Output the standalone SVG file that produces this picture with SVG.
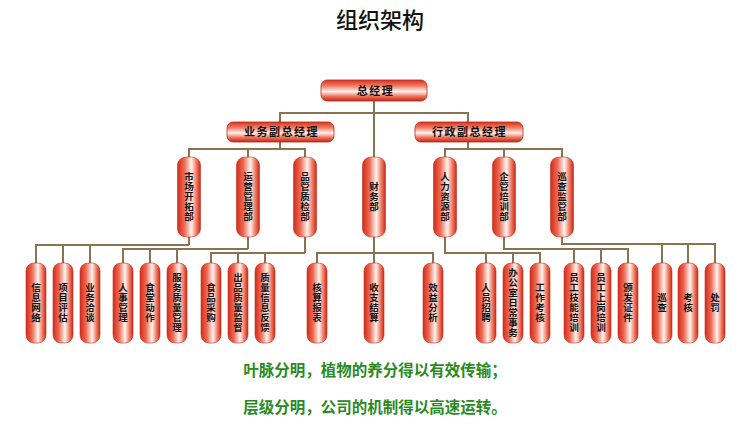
<svg xmlns="http://www.w3.org/2000/svg" width="750" height="442" viewBox="0 0 750 442">
<defs>
<linearGradient id="cap" x1="0" y1="0" x2="1" y2="0">
<stop offset="0" stop-color="#d42a1a"/>
<stop offset="0.3" stop-color="#ec6a52"/>
<stop offset="0.6" stop-color="#fff4f0"/>
<stop offset="0.82" stop-color="#ef7a62"/>
<stop offset="1" stop-color="#cc2616"/>
</linearGradient>
<linearGradient id="box" x1="0" y1="0" x2="0" y2="1">
<stop offset="0" stop-color="#d83220"/>
<stop offset="0.28" stop-color="#f07c64"/>
<stop offset="0.55" stop-color="#fff2ec"/>
<stop offset="0.78" stop-color="#ee7058"/>
<stop offset="1" stop-color="#c42616"/>
</linearGradient>
</defs>
<style>
.cap{fill:url(#cap);stroke:#c8301e;stroke-width:0.6}
.box{fill:url(#box);stroke:#b8281a;stroke-width:0.8}
.t{font-family:"Noto Sans CJK SC","Noto Sans CJK JP",sans-serif;font-size:9.5px;font-weight:bold;fill:#111;text-anchor:middle}
.bt{font-family:"Noto Sans CJK SC","Noto Sans CJK JP",sans-serif;font-size:11px;font-weight:bold;fill:#111;text-anchor:middle;letter-spacing:1.5px}
.title{font-family:"Noto Sans CJK SC","Noto Sans CJK JP",sans-serif;font-size:22px;font-weight:500;fill:#111;text-anchor:middle}
.note{font-family:"Noto Sans CJK SC","Noto Sans CJK JP",sans-serif;font-size:15.5px;font-weight:bold;fill:#2a8a1e;text-anchor:middle}
.ln{fill:none;stroke:#8a7350;stroke-width:2}
</style>
<rect width="750" height="442" fill="#ffffff"/>
<text class="title" x="380" y="28">组织架构</text>

<g id="connectors" class="ln">
<path d="M374,101 V157"/>
<path d="M280,122 V113 H468 V122"/>
<path d="M280,142 V149 M189,157 V149 H305 V157 M248,149 V157"/>
<path d="M468,142 V149 M445,157 V149 H562 V157 M504,149 V157"/>
<path d="M189,237 V245 M36,263 V245 H189 M63,245 V263 M90,245 V263"/>
<path d="M248,237 V249 M123,263 V249 H248 M150,249 V263 M177,249 V263"/>
<path d="M305,237 V253 M211,263 V253 H305 M238,253 V263 M265,253 V263"/>
<path d="M374,237 V263 M317,263 V253 H433 V263"/>
<path d="M445,237 V253 H540 V263 M486,253 V263 M513,253 V263"/>
<path d="M504,237 V249 H628 V263 M574,249 V263 M601,249 V263"/>
<path d="M562,237 V244 H715 V263 M662,244 V263 M688,244 V263"/>
</g>

<g id="n-zjl"><rect class="box" x="321" y="80" width="106" height="21" rx="6"/><text class="bt" x="375.5" y="94.8">总经理</text></g>
<g id="n-ywfz"><rect class="box" x="227" y="122" width="107" height="20" rx="6"/><text class="bt" x="281.5" y="136.3">业务副总经理</text></g>
<g id="n-xzfz"><rect class="box" x="415" y="122" width="108" height="20" rx="6"/><text class="bt" x="469.5" y="136.3">行政副总经理</text></g>

<g id="n-sckt"><rect class="cap" x="177.5" y="157" width="23" height="80" rx="9" ry="8"/><text class="t"><tspan x="189" y="180.4">市</tspan><tspan x="189" y="190.4">场</tspan><tspan x="189" y="200.4">开</tspan><tspan x="189" y="210.4">拓</tspan><tspan x="189" y="220.4">部</tspan></text></g>
<g id="n-yygl"><rect class="cap" x="236.5" y="157" width="23" height="80" rx="9" ry="8"/><text class="t"><tspan x="248" y="180.4">运</tspan><tspan x="248" y="190.4">营</tspan><tspan x="248" y="200.4">管</tspan><tspan x="248" y="210.4">理</tspan><tspan x="248" y="220.4">部</tspan></text></g>
<g id="n-pgzj"><rect class="cap" x="293.5" y="157" width="23" height="80" rx="9" ry="8"/><text class="t"><tspan x="305" y="180.4">品</tspan><tspan x="305" y="190.4">管</tspan><tspan x="305" y="200.4">质</tspan><tspan x="305" y="210.4">检</tspan><tspan x="305" y="220.4">部</tspan></text></g>
<g id="n-cwb"><rect class="cap" x="362.5" y="157" width="23" height="80" rx="9" ry="8"/><text class="t"><tspan x="374" y="190.4">财</tspan><tspan x="374" y="200.4">务</tspan><tspan x="374" y="210.4">部</tspan></text></g>
<g id="n-rlzy"><rect class="cap" x="433.5" y="157" width="23" height="80" rx="9" ry="8"/><text class="t"><tspan x="445" y="180.4">人</tspan><tspan x="445" y="190.4">力</tspan><tspan x="445" y="200.4">资</tspan><tspan x="445" y="210.4">源</tspan><tspan x="445" y="220.4">部</tspan></text></g>
<g id="n-qgpx"><rect class="cap" x="492.5" y="157" width="23" height="80" rx="9" ry="8"/><text class="t"><tspan x="504" y="180.4">企</tspan><tspan x="504" y="190.4">管</tspan><tspan x="504" y="200.4">培</tspan><tspan x="504" y="210.4">训</tspan><tspan x="504" y="220.4">部</tspan></text></g>
<g id="n-xcjg"><rect class="cap" x="550.5" y="157" width="23" height="80" rx="9" ry="8"/><text class="t"><tspan x="562" y="180.4">巡</tspan><tspan x="562" y="190.4">查</tspan><tspan x="562" y="200.4">监</tspan><tspan x="562" y="210.4">管</tspan><tspan x="562" y="220.4">部</tspan></text></g>

<g id="n-xxwl"><rect class="cap" x="26" y="263" width="20" height="80" rx="8" ry="8"/><text class="t"><tspan x="36" y="291.4">信</tspan><tspan x="36" y="301.4">息</tspan><tspan x="36" y="311.4">网</tspan><tspan x="36" y="321.4">络</tspan></text></g>
<g id="n-xmpg"><rect class="cap" x="53" y="263" width="20" height="80" rx="8" ry="8"/><text class="t"><tspan x="63" y="291.4">项</tspan><tspan x="63" y="301.4">目</tspan><tspan x="63" y="311.4">评</tspan><tspan x="63" y="321.4">估</tspan></text></g>
<g id="n-ywqt"><rect class="cap" x="80" y="263" width="20" height="80" rx="8" ry="8"/><text class="t"><tspan x="90" y="291.4">业</tspan><tspan x="90" y="301.4">务</tspan><tspan x="90" y="311.4">洽</tspan><tspan x="90" y="321.4">谈</tspan></text></g>
<g id="n-rsgl"><rect class="cap" x="113" y="263" width="20" height="80" rx="8" ry="8"/><text class="t"><tspan x="123" y="291.4">人</tspan><tspan x="123" y="301.4">事</tspan><tspan x="123" y="311.4">管</tspan><tspan x="123" y="321.4">理</tspan></text></g>
<g id="n-stdz"><rect class="cap" x="140" y="263" width="20" height="80" rx="8" ry="8"/><text class="t"><tspan x="150" y="291.4">食</tspan><tspan x="150" y="301.4">堂</tspan><tspan x="150" y="311.4">动</tspan><tspan x="150" y="321.4">作</tspan></text></g>
<g id="n-fwzl"><rect class="cap" x="167" y="263" width="20" height="80" rx="8" ry="8"/><text class="t"><tspan x="177" y="281.4">服</tspan><tspan x="177" y="291.4">务</tspan><tspan x="177" y="301.4">质</tspan><tspan x="177" y="311.4">量</tspan><tspan x="177" y="321.4">管</tspan><tspan x="177" y="331.4">理</tspan></text></g>
<g id="n-spcg"><rect class="cap" x="201" y="263" width="20" height="80" rx="8" ry="8"/><text class="t"><tspan x="211" y="291.4">食</tspan><tspan x="211" y="301.4">品</tspan><tspan x="211" y="311.4">采</tspan><tspan x="211" y="321.4">购</tspan></text></g>
<g id="n-cpzl"><rect class="cap" x="228" y="263" width="20" height="80" rx="8" ry="8"/><text class="t"><tspan x="238" y="281.4">出</tspan><tspan x="238" y="291.4">品</tspan><tspan x="238" y="301.4">质</tspan><tspan x="238" y="311.4">量</tspan><tspan x="238" y="321.4">监</tspan><tspan x="238" y="331.4">督</tspan></text></g>
<g id="n-zlxx"><rect class="cap" x="255" y="263" width="20" height="80" rx="8" ry="8"/><text class="t"><tspan x="265" y="281.4">质</tspan><tspan x="265" y="291.4">量</tspan><tspan x="265" y="301.4">信</tspan><tspan x="265" y="311.4">息</tspan><tspan x="265" y="321.4">反</tspan><tspan x="265" y="331.4">馈</tspan></text></g>
<g id="n-hsbb"><rect class="cap" x="307" y="263" width="20" height="80" rx="8" ry="8"/><text class="t"><tspan x="317" y="291.4">核</tspan><tspan x="317" y="301.4">算</tspan><tspan x="317" y="311.4">报</tspan><tspan x="317" y="321.4">表</tspan></text></g>
<g id="n-szjs"><rect class="cap" x="364" y="263" width="20" height="80" rx="8" ry="8"/><text class="t"><tspan x="374" y="291.4">收</tspan><tspan x="374" y="301.4">支</tspan><tspan x="374" y="311.4">结</tspan><tspan x="374" y="321.4">算</tspan></text></g>
<g id="n-xyfx"><rect class="cap" x="423" y="263" width="20" height="80" rx="8" ry="8"/><text class="t"><tspan x="433" y="291.4">效</tspan><tspan x="433" y="301.4">益</tspan><tspan x="433" y="311.4">分</tspan><tspan x="433" y="321.4">析</tspan></text></g>
<g id="n-ryzp"><rect class="cap" x="476" y="263" width="20" height="80" rx="8" ry="8"/><text class="t"><tspan x="486" y="291.4">人</tspan><tspan x="486" y="301.4">员</tspan><tspan x="486" y="311.4">招</tspan><tspan x="486" y="321.4">聘</tspan></text></g>
<g id="n-bgs"><rect class="cap" x="503" y="263" width="20" height="80" rx="8" ry="8"/><text class="t"><tspan x="513" y="276.4">办</tspan><tspan x="513" y="286.4">公</tspan><tspan x="513" y="296.4">室</tspan><tspan x="513" y="306.4">日</tspan><tspan x="513" y="316.4">常</tspan><tspan x="513" y="326.4">事</tspan><tspan x="513" y="336.4">务</tspan></text></g>
<g id="n-gzkh"><rect class="cap" x="530" y="263" width="20" height="80" rx="8" ry="8"/><text class="t"><tspan x="540" y="291.4">工</tspan><tspan x="540" y="301.4">作</tspan><tspan x="540" y="311.4">考</tspan><tspan x="540" y="321.4">核</tspan></text></g>
<g id="n-ygjn"><rect class="cap" x="564" y="263" width="20" height="80" rx="8" ry="8"/><text class="t"><tspan x="574" y="281.4">员</tspan><tspan x="574" y="291.4">工</tspan><tspan x="574" y="301.4">技</tspan><tspan x="574" y="311.4">能</tspan><tspan x="574" y="321.4">培</tspan><tspan x="574" y="331.4">训</tspan></text></g>
<g id="n-ygsg"><rect class="cap" x="591" y="263" width="20" height="80" rx="8" ry="8"/><text class="t"><tspan x="601" y="281.4">员</tspan><tspan x="601" y="291.4">工</tspan><tspan x="601" y="301.4">上</tspan><tspan x="601" y="311.4">岗</tspan><tspan x="601" y="321.4">培</tspan><tspan x="601" y="331.4">训</tspan></text></g>
<g id="n-bfzj"><rect class="cap" x="618" y="263" width="20" height="80" rx="8" ry="8"/><text class="t"><tspan x="628" y="291.4">颁</tspan><tspan x="628" y="301.4">发</tspan><tspan x="628" y="311.4">证</tspan><tspan x="628" y="321.4">件</tspan></text></g>
<g id="n-xc"><rect class="cap" x="652" y="263" width="20" height="80" rx="8" ry="8"/><text class="t"><tspan x="662" y="301.4">巡</tspan><tspan x="662" y="311.4">查</tspan></text></g>
<g id="n-kh"><rect class="cap" x="678" y="263" width="20" height="80" rx="8" ry="8"/><text class="t"><tspan x="688" y="301.4">考</tspan><tspan x="688" y="311.4">核</tspan></text></g>
<g id="n-cf"><rect class="cap" x="705" y="263" width="20" height="80" rx="8" ry="8"/><text class="t"><tspan x="715" y="301.4">处</tspan><tspan x="715" y="311.4">罚</tspan></text></g>

<text class="note" x="375" y="375.5">叶脉分明，植物的养分得以有效传输；</text>
<text class="note" x="375" y="412.5">层级分明，公司的机制得以高速运转。</text>
</svg>
